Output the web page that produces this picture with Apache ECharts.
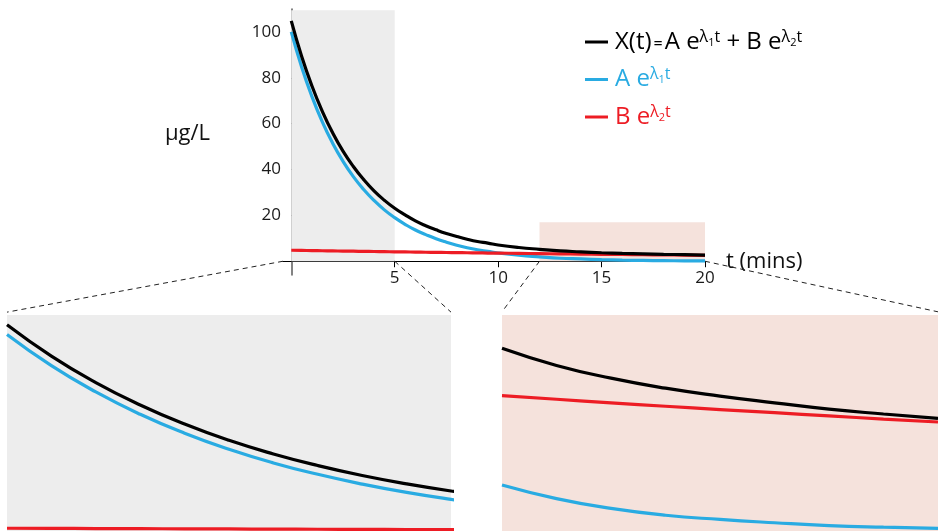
<!DOCTYPE html>
<html><head><meta charset="utf-8">
<script src="https://cdn.jsdelivr.net/npm/echarts@6/dist/echarts.min.js"></script>
<style>html,body{margin:0;padding:0;background:#fff}#c{width:938px;height:531px}</style>
</head><body><div id="c"></div>
<script>
// ---- data ----
const tMain = [0,0.5,1,1.5,2,2.5,3,3.5,4,4.5,5,5.5,6,6.5,7,7.5,8,8.5,9,9.5,10,11,12,13,14,15,16,17,18,19,20];
const blueMain = [100,84.7,71.8,60.8,51.5,43.6,36.9,31.3,26.5,22.4,19.0,16.1,13.6,11.6,9.8,8.3,7.0,5.9,5.0,4.3,3.6,2.6,1.9,1.3,1.0,0.7,0.5,0.35,0.25,0.18,0.13];
const redMain = [4.8,4.73,4.65,4.58,4.51,4.44,4.38,4.31,4.24,4.18,4.11,4.05,3.99,3.93,3.87,3.81,3.75,3.70,3.64,3.58,3.53,3.42,3.32,3.22,3.12,3.03,2.94,2.85,2.76,2.68,2.60];
const blackMain = [104.8,89.4,76.4,65.4,56.0,48.0,41.3,35.6,30.7,26.6,23.1,20.2,17.6,15.5,13.7,12.1,10.8,9.6,8.6,7.9,7.1,6.0,5.2,4.5,4.1,3.7,3.4,3.2,3.0,2.9,2.7];

// right (late-phase) zoom panel, as drawn in its own magnified scale
const tRight = [12,13,14,15,16,17,18,19,20];
const blackRight = [14.38,13.03,12.03,11.24,10.62,10.09,9.59,9.21,8.87];
const redRight = [10.65,10.37,10.09,9.82,9.56,9.31,9.06,8.81,8.58];
const blueRight = [3.62,2.55,1.78,1.24,0.91,0.65,0.43,0.30,0.21];

const xTicks = [5,10,15,20];
const yTicks = [20,40,60,80,100];
const grayZone = [0,5,0,109.5];   // t from, t to, y from, y to
const pinkZone = [12,20,0,17];

const seriesNames = ['X(t) = A e^λ1t + B e^λ2t','A e^λ1t','B e^λ2t'];
const BLACK = '#000000', BLUE = '#29abe2', RED = '#ed1c24';
const FONT = 'Open Sans';

const pairs = (xs, ys) => xs.map((x,i)=>[x, ys[i]]);

const chart = echarts.init(document.getElementById('c'), null, {renderer:'canvas'});

function lineSeries(name, color, xs, ys, gi, z){
  return {name, type:'line', xAxisIndex:gi, yAxisIndex:gi, data:pairs(xs,ys), smooth:true,
    showSymbol:false, symbol:'none', clip:true, z:z, silent:true,
    itemStyle:{color}, lineStyle:{color, width:3.2}};
}

const rich = {};
function addRich(p, color){
  rich[p] = {fontFamily:FONT, fontSize:24, color, lineHeight:30, verticalAlign:'middle'};
  rich[p+'eq'] = {fontFamily:FONT, fontSize:16, color, lineHeight:30, verticalAlign:'middle', padding:[4,2,0,2]};
  rich[p+'s'] = {fontFamily:FONT, fontSize:16, color, lineHeight:16, verticalAlign:'top', padding:[2,0,0,0]};
  rich[p+'ss'] = {fontFamily:FONT, fontSize:11, color, lineHeight:11, verticalAlign:'top', padding:[10,0,0,0]};
}
addRich('k', BLACK); addRich('b', BLUE); addRich('r', RED);

const option = {
  animation:false,
  backgroundColor:'#ffffff',
  textStyle:{fontFamily:FONT},
  grid:[
    {left:283, right:233, top:9, bottom:256},
    {left:7, width:444, top:315, height:216, show:true, backgroundColor:'#ededed', borderWidth:0},
    {left:502, right:0, top:315, height:216, show:true, backgroundColor:'#f5e2dc', borderWidth:0}
  ],
  xAxis:[
    {gridIndex:0, type:'value', min:-0.4, max:20,
      axisLine:{show:true, onZero:true, lineStyle:{color:'#000', width:1}},
      axisTick:{show:true, inside:false, length:6, customValues:xTicks, lineStyle:{color:'#000'}},
      axisLabel:{show:true, customValues:xTicks, margin:-5, fontSize:17, color:'#1a1a1a', fontFamily:FONT},
      splitLine:{show:false},
      name:'t (mins)', nameLocation:'end', nameGap:21,
      nameTextStyle:{fontSize:22, color:'#111', fontFamily:FONT, verticalAlign:'middle', padding:[0,0,3,0]}},
    {gridIndex:1, type:'value', min:0, max:5, show:false},
    {gridIndex:2, type:'value', min:12, max:20, show:false}
  ],
  yAxis:[
    {gridIndex:0, type:'value', min:-6, max:110,
      axisLine:{show:true, onZero:true, lineStyle:{color:'#5a5a5a', width:1.5}},
      axisTick:{show:true, inside:true, length:6, customValues:yTicks, lineStyle:{color:'#222'}},
      axisLabel:{show:true, customValues:yTicks, margin:2, fontSize:17, color:'#1a1a1a', fontFamily:FONT},
      splitLine:{show:false}},
    {gridIndex:1, type:'value', min:3.44, max:109.6, show:false},
    {gridIndex:2, type:'value', min:0, max:17, show:false}
  ],
  legend:{
    orient:'vertical', left:580, top:22, itemWidth:23, itemHeight:3, itemGap:10.5, icon:'rect',
    selectedMode:false,
    data:seriesNames,
    formatter:function(name){
      if(name===seriesNames[0]) return '{k|X(t)}{keq|=}{k|A e}{ks|λ}{kss|1}{ks|t}{k| + B e}{ks|λ}{kss|2}{ks|t}';
      if(name===seriesNames[1]) return '{b|A e}{bs|λ}{bss|1}{bs|t}';
      return '{r|B e}{rs|λ}{rss|2}{rs|t}';
    },
    textStyle:{rich, padding:[0,0,0,2]}
  },
  graphic:[
    {type:'text', left:165, top:123, silent:true,
      style:{text:'μg/L', fontSize:22, fontFamily:FONT, fill:'#111'}}
  ],
  series:[
    {name:'zones', type:'line', xAxisIndex:0, yAxisIndex:0, data:[], z:1, silent:true,
      markArea:{silent:true, data:[
        [{coord:[grayZone[0],grayZone[2]], itemStyle:{color:'#ededed'}},{coord:[grayZone[1],grayZone[3]]}],
        [{coord:[pinkZone[0],pinkZone[2]], itemStyle:{color:'#f5e2dc'}},{coord:[pinkZone[1],pinkZone[3]]}]
      ]}},
    lineSeries(seriesNames[1], BLUE, tMain, blueMain, 0, 3),
    lineSeries(seriesNames[2], RED, tMain, redMain, 0, 4),
    lineSeries(seriesNames[0], BLACK, tMain, blackMain, 0, 5),
    lineSeries('inset1-blue', BLUE, tMain, blueMain, 1, 3),
    lineSeries('inset1-red', RED, tMain, redMain, 1, 4),
    lineSeries('inset1-black', BLACK, tMain, blackMain, 1, 5),
    lineSeries('inset2-blue', BLUE, tRight, blueRight, 2, 3),
    lineSeries('inset2-red', RED, tRight, redRight, 2, 4),
    lineSeries('inset2-black', BLACK, tRight, blackRight, 2, 5)
  ]
};
chart.setOption(option);

// dashed connector lines from the zoomed zones of the main axes to the panels
const px = (gi, v) => chart.convertToPixel({gridIndex:gi}, v);
const connectors = [
  [px(0,[-0.4,0]), px(1,[0,111])],
  [px(0,[grayZone[1],0]), px(1,[5,111])],
  [px(0,[pinkZone[0],0]), px(2,[12,17.25])],
  [px(0,[pinkZone[1],0]), px(2,[20,17.25])]
];
const g = option.graphic.slice();
connectors.forEach(([a,b])=>{
  g.push({type:'line', silent:true, z:10,
    shape:{x1:a[0], y1:a[1], x2:b[0], y2:b[1]},
    style:{stroke:'#222', lineWidth:1, lineDash:[5,4]}});
});
chart.setOption({graphic:g});
</script>
</body></html>
